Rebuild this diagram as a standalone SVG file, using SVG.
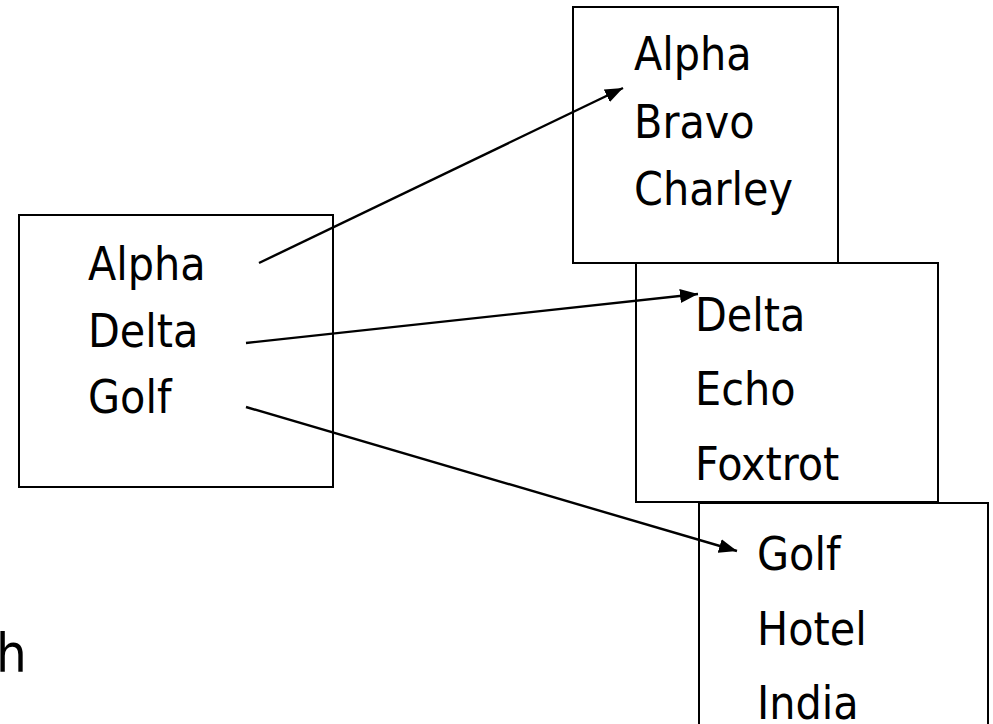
<svg xmlns="http://www.w3.org/2000/svg" width="993" height="724" viewBox="0 0 993 724">
  <style>
    .box { fill: #ffffff; stroke: #000000; stroke-width: 2; }
    .label { font-family: "DejaVu Sans Condensed", "DejaVu Sans", sans-serif; font-size: 46px; fill: #000000; }
    .link { stroke: #000000; stroke-width: 2.4; fill: none; marker-end: url(#arrow); }
  </style>
  <defs>
    <marker id="arrow" viewBox="0 0 18 14" refX="18" refY="7" markerWidth="18" markerHeight="14" markerUnits="userSpaceOnUse" orient="auto">
      <path d="M0,0 L18,7 L0,14 Z" fill="#000000"/>
    </marker>
  </defs>
  <rect width="993" height="724" fill="#ffffff"/>

  <!-- source list -->
  <g id="source">
    <rect class="box" x="19" y="215" width="314" height="272"/>
    <text class="label" x="88" y="280">Alpha</text>
    <text class="label" x="88" y="347">Delta</text>
    <text class="label" x="88" y="413">Golf</text>
  </g>

  <!-- first block -->
  <g id="block-a">
    <rect class="box" x="573" y="7" width="265" height="256"/>
    <text class="label" x="634" y="70">Alpha</text>
    <text class="label" x="634" y="138">Bravo</text>
    <text class="label" x="634" y="205">Charley</text>
  </g>

  <!-- second block -->
  <g id="block-d">
    <rect class="box" x="636" y="263" width="302" height="239"/>
    <text class="label" x="695" y="331">Delta</text>
    <text class="label" x="695" y="405">Echo</text>
    <text class="label" x="695" y="480">Foxtrot</text>
  </g>

  <!-- third block -->
  <g id="block-g">
    <rect class="box" x="699" y="503" width="289" height="240"/>
    <text class="label" x="757" y="570">Golf</text>
    <text class="label" x="757" y="645">Hotel</text>
    <text class="label" x="757" y="719">India</text>
  </g>

  <!-- trailing text fragment at the left edge -->
  <text class="label" x="-4" y="672" style="font-size:54px">h</text>

  <!-- pointers from the source list into the blocks -->
  <g id="connectors">
    <line class="link" x1="259" y1="263" x2="623" y2="88"/>
    <line class="link" x1="246" y1="343" x2="698" y2="294"/>
    <line class="link" x1="246" y1="407" x2="737" y2="551"/>
  </g>
</svg>
